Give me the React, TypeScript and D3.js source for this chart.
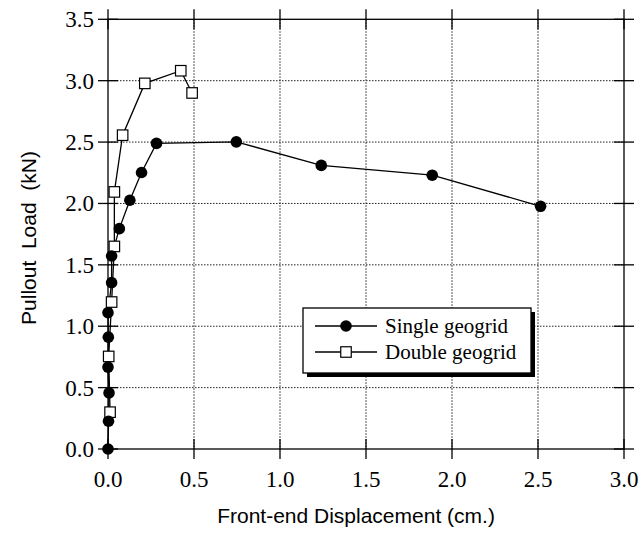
import React from "react";
import * as d3 from "d3";

const singleX = [0, 0.003, 0.006, 0.0, 0.002, 0.0, 0.021, 0.021, 0.066, 0.127, 0.195, 0.282, 0.746, 1.24, 1.885, 2.515];
const singleY = [0, 0.226, 0.457, 0.667, 0.911, 1.11, 1.355, 1.572, 1.795, 2.026, 2.252, 2.489, 2.502, 2.31, 2.23, 1.977];
const doubleX = [0.012, 0.004, 0.021, 0.037, 0.037, 0.085, 0.214, 0.423, 0.489];
const doubleY = [0.3, 0.754, 1.197, 1.65, 2.094, 2.556, 2.978, 3.081, 2.9];
const xTicks = [0, 0.5, 1.0, 1.5, 2.0, 2.5, 3.0];
const yTicks = [0, 0.5, 1.0, 1.5, 2.0, 2.5, 3.0, 3.5];
const seriesNames = ["Single geogrid", "Double geogrid"];
const xTitle = "Front-end Displacement (cm.)";
const yTitle = "Pullout\u00a0\u00a0Load\u00a0\u00a0(kN)";

export default function App() {
  const W = 641, H = 540;
  const left = 108, right = 624, top = 19.3, bottom = 449;
  const x = d3.scaleLinear().domain([0, 3]).range([left, right]);
  const y = d3.scaleLinear().domain([0, 3.5]).range([bottom, top]);
  const line = d3.line<[number, number]>().x(d => x(d[0])).y(d => y(d[1]));
  const single: [number, number][] = singleX.map((v, i) => [v, singleY[i]]);
  const dbl: [number, number][] = doubleX.map((v, i) => [v, doubleY[i]]);
  const serif = "'Liberation Serif', 'Times New Roman', serif";
  const sans = "'Liberation Sans', Arial, sans-serif";
  const tk = 10;
  const sq = 10.5;
  const lg = { x0: 303, y0: 308, x1: 531, y1: 373 };
  return (
    <svg width={W} height={H} style={{ position: "absolute", left: 0, top: 0, background: "#fff" }}>
      <rect x={0} y={0} width={W} height={H} fill="#fff" />
      {xTicks.slice(1, -1).map(t => (
        <line key={"gx" + t} x1={x(t)} x2={x(t)} y1={top} y2={bottom} stroke="#222" strokeWidth={1} strokeDasharray="1.5,1.5" />
      ))}
      {yTicks.slice(1, -1).map(t => (
        <line key={"gy" + t} x1={left} x2={right} y1={y(t)} y2={y(t)} stroke="#222" strokeWidth={1} strokeDasharray="1.5,1.5" />
      ))}
      <rect x={left} y={top} width={right - left} height={bottom - top} fill="none" stroke="#000" strokeWidth={1.3} />
      {xTicks.map(t => (
        <g key={"tx" + t}>
          <line x1={x(t)} x2={x(t)} y1={bottom - tk} y2={bottom + tk} stroke="#000" strokeWidth={1.3} />
          <line x1={x(t)} x2={x(t)} y1={top - tk} y2={top + tk} stroke="#000" strokeWidth={1.3} />
          <text x={x(t)} y={487} textAnchor="middle" fontFamily={serif} fontSize={23} fill="#000">{t.toFixed(1)}</text>
        </g>
      ))}
      {yTicks.map(t => (
        <g key={"ty" + t}>
          <line x1={left - tk} x2={left + tk} y1={y(t)} y2={y(t)} stroke="#000" strokeWidth={1.3} />
          <line x1={right - tk} x2={right + tk} y1={y(t)} y2={y(t)} stroke="#000" strokeWidth={1.3} />
          <text x={94} y={y(t) + 8} textAnchor="end" fontFamily={serif} fontSize={23} fill="#000">{t.toFixed(1)}</text>
        </g>
      ))}
      <path d={line(single) || ""} fill="none" stroke="#000" strokeWidth={1.3} />
      <path d={line(dbl) || ""} fill="none" stroke="#000" strokeWidth={1.3} />
      {dbl.map((d, i) => (
        <rect key={"s" + i} x={x(d[0]) - sq / 2} y={y(d[1]) - sq / 2} width={sq} height={sq} fill="#fff" stroke="#000" strokeWidth={1.2} />
      ))}
      {single.map((d, i) => (
        <circle key={"c" + i} cx={x(d[0])} cy={y(d[1])} r={5.8} fill="#000" />
      ))}
      <rect x={lg.x0 + 4} y={lg.y0 + 4} width={lg.x1 - lg.x0} height={lg.y1 - lg.y0} fill="#000" />
      <rect x={lg.x0} y={lg.y0} width={lg.x1 - lg.x0} height={lg.y1 - lg.y0} fill="#fff" stroke="#000" strokeWidth={1.3} />
      <line x1={315} x2={377} y1={326} y2={326} stroke="#000" strokeWidth={1.3} />
      <circle cx={346} cy={326} r={5.8} fill="#000" />
      <text x={385} y={333} fontFamily={serif} fontSize={21} fill="#000">{seriesNames[0]}</text>
      <line x1={315} x2={377} y1={352} y2={352} stroke="#000" strokeWidth={1.3} />
      <rect x={346 - sq / 2} y={352 - sq / 2} width={sq} height={sq} fill="#fff" stroke="#000" strokeWidth={1.2} />
      <text x={385} y={359} fontFamily={serif} fontSize={21} fill="#000">{seriesNames[1]}</text>
      <text x={356} y={523} textAnchor="middle" fontFamily={sans} fontSize={21} fill="#000">{xTitle}</text>
      <text transform={`translate(36,238) rotate(-90)`} textAnchor="middle" fontFamily={sans} fontSize={21} fill="#000">{yTitle}</text>
    </svg>
  );
}
